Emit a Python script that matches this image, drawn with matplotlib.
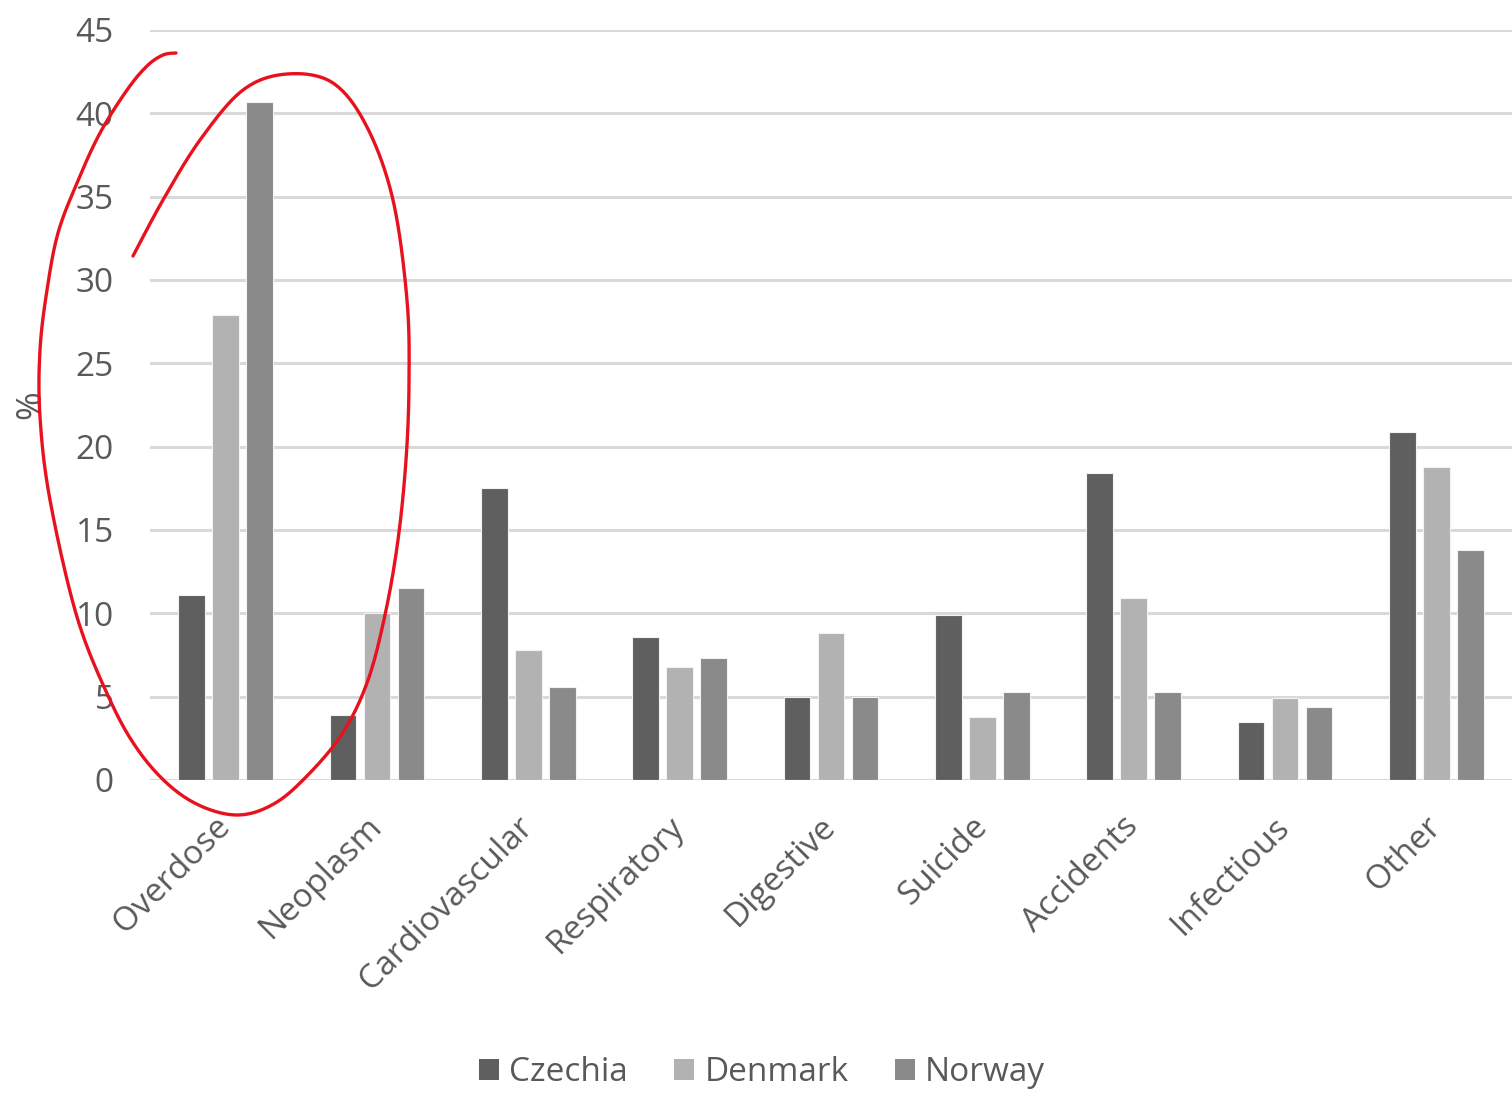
import numpy as np
import matplotlib
matplotlib.use("Agg")
import matplotlib.pyplot as plt
from matplotlib.lines import Line2D
from matplotlib.patches import Patch

plt.rcParams['font.family'] = ['Open Sans', 'DejaVu Sans']

# Causes of death, share in % by country
causes  = ["Overdose", "Neoplasm", "Cardiovascular", "Respiratory", "Digestive",
           "Suicide", "Accidents", "Infectious", "Other"]
czechia = [11.1, 3.9, 17.5, 8.6, 5.0, 9.9, 18.4, 3.5, 20.9]
denmark = [27.9, 10.0, 7.8, 6.8, 8.8, 3.8, 10.9, 4.9, 18.8]
norway  = [40.7, 11.5, 5.6, 7.3, 5.0, 5.3, 5.3, 4.4, 13.8]
yticks  = [0, 5, 10, 15, 20, 25, 30, 35, 40, 45]

countries = ["Czechia", "Denmark", "Norway"]
colors    = ["#5f5f5f", "#b2b2b2", "#8a8a8a"]
txt_col   = "#595959"

# freehand red loop drawn over the chart (figure pixels, y downward)
loop_px = [(133, 256), (163, 200), (200, 140), (243, 90), (287, 74), (333, 83),
           (367, 127), (393, 200), (407, 300), (409, 383), (406, 460), (398, 540),
           (385, 615), (367, 683), (340, 737), (300, 783), (270, 806), (238, 815),
           (203, 807), (170, 786), (138, 750), (110, 700), (77, 617), (50, 500),
           (40, 417), (40, 350), (47, 290), (58, 233), (77, 183), (100, 133),
           (127, 90), (147, 66), (163, 55), (176, 53)]

W, H = 1512, 1096
fig = plt.figure(figsize=(W / 100, H / 100), dpi=100)
ax = fig.add_axes([150 / W, 1 - 780 / H, 1 - 150 / W, (780 - 30) / H])

x = np.arange(len(causes))
bw, step = 0.175, 0.225
for i, (vals, name, c) in enumerate(zip([czechia, denmark, norway], countries, colors)):
    ax.bar(x + (i - 1) * step, vals, width=bw, color=c, edgecolor="#f2f2f2",
           linewidth=0.8, zorder=3, label=name)

ax.set_xlim(-0.5, len(causes) - 0.5)
ax.set_ylim(0, 45)
ax.set_yticks(yticks)
ax.yaxis.grid(True, color="#d9d9d9", linewidth=2.2, zorder=0)
ax.set_axisbelow(True)
for s in ax.spines.values():
    s.set_visible(False)
ax.tick_params(axis="both", length=0, labelsize=24, colors=txt_col)
ax.tick_params(axis="y", pad=26)
ax.tick_params(axis="x", pad=30)

ax.set_xticks(x)
ax.set_xticklabels(causes)
plt.setp(ax.get_xticklabels(), rotation=45, ha="right", va="center",
         rotation_mode="anchor")

ax.set_ylabel("%", fontsize=25, color=txt_col)
ax.yaxis.set_label_coords(-0.075, 0.5)

handles = [Patch(facecolor=c, edgecolor="none") for c in colors]
fig.legend(handles, countries, loc="center", bbox_to_anchor=(0.504, 0.021),
           ncol=3, frameon=False, fontsize=24, labelcolor=txt_col,
           handlelength=0.6, handleheight=0.6, handletextpad=0.3,
           columnspacing=1.4)

# smooth the loop with a Catmull-Rom spline
P = np.array(loop_px, dtype=float)
P = np.vstack([P[0], P, P[-1]])
t = np.linspace(0, 1, 20)[:, None]
curve = []
for k in range(1, len(P) - 2):
    p0, p1, p2, p3 = P[k - 1], P[k], P[k + 1], P[k + 2]
    seg = 0.5 * ((2 * p1) + (-p0 + p2) * t + (2 * p0 - 5 * p1 + 4 * p2 - p3) * t ** 2
                 + (-p0 + 3 * p1 - 3 * p2 + p3) * t ** 3)
    curve.append(seg)
curve = np.vstack(curve)
fig.add_artist(Line2D(curve[:, 0] / W, 1 - curve[:, 1] / H, color="#e8121f",
                      linewidth=2.4, solid_capstyle="round",
                      transform=fig.transFigure, zorder=10))

fig.savefig("out.png", dpi=100, facecolor="white")
